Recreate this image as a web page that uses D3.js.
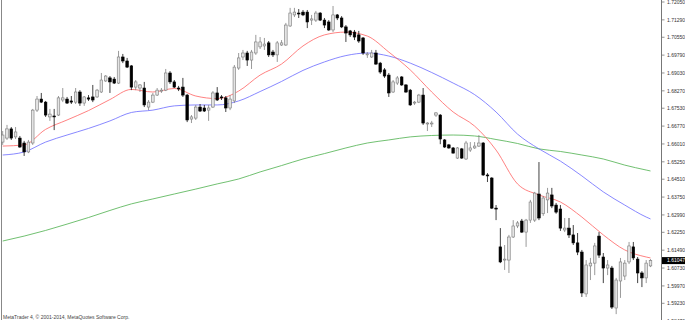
<!DOCTYPE html>
<html>
<head>
<meta charset="utf-8">
<script src="https://cdn.jsdelivr.net/npm/d3@7"></script>
<style>
  body { margin: 0; background: #fff; }
  svg { display: block; font-family: "Liberation Sans", Arial, sans-serif; }
</style>
</head>
<body>
<svg id="chart" width="685" height="320"></svg>
<script>
// daily bars (price units)
const open = [1.6609,1.6626,1.6665,1.6631,1.6626,1.6605,1.6567,1.6605,1.6745,1.6792,1.6779,1.6716,1.6720,1.6724,1.6788,1.6792,1.6784,1.6779,1.6822,1.6775,
  1.6797,1.6801,1.6801,1.6822,1.6869,1.6882,1.6877,1.6860,1.6971,1.6954,1.6933,1.6843,1.6839,1.6839,1.6758,1.6779,1.6809,1.6826,1.6830,1.6903,
  1.6865,1.6839,1.6843,1.6809,1.6707,1.6711,1.6758,1.6754,1.6745,1.6758,1.6818,1.6801,1.6797,1.6754,1.6784,1.6924,1.6971,1.6988,1.6958,1.6988,
  1.7014,1.7018,1.7031,1.6992,1.6980,1.7022,1.7022,1.7103,1.7150,1.7158,1.7162,1.7162,1.7128,1.7128,1.7158,1.7128,1.7120,1.7086,1.7150,1.7137,
  1.7099,1.7082,1.7077,1.7065,1.7052,1.6980,1.6971,1.6988,1.6945,1.6916,1.6894,1.6822,1.6860,1.6886,1.6852,1.6830,1.6775,1.6779,1.6809,1.6686,
  1.6686,1.6724,1.6724,1.6618,1.6597,1.6584,1.6541,1.6580,1.6537,1.6575,1.6584,1.6592,1.6605,1.6469,1.6456,1.6328,1.6163,1.6107,1.6107,1.6205,
  1.6252,1.6273,1.6226,1.6277,1.6277,1.6388,1.6304,1.6363,1.6384,1.6341,1.6324,1.6235,1.6243,1.6214,1.6180,1.6141,1.5963,1.6082,1.6094,1.6209,
  1.6120,1.6073,1.6073,1.5903,1.6018,1.6039,1.6099,1.6163,1.6111,1.6052,1.6031,1.6082];
const high = [1.6656,1.6682,1.6673,1.6673,1.6635,1.6614,1.6618,1.6750,1.6805,1.6818,1.6784,1.6750,1.6750,1.6805,1.6839,1.6801,1.6805,1.6839,1.6830,1.6805,
  1.6809,1.6852,1.6835,1.6903,1.6894,1.6890,1.6886,1.6997,1.6984,1.6967,1.6937,1.6873,1.6856,1.6865,1.6788,1.6818,1.6839,1.6839,1.6920,1.6911,
  1.6873,1.6848,1.6882,1.6814,1.6724,1.6767,1.6771,1.6767,1.6767,1.6826,1.6843,1.6809,1.6805,1.6809,1.6937,1.6988,1.7001,1.6997,1.7001,1.7065,
  1.7056,1.7052,1.7039,1.7001,1.7039,1.7043,1.7116,1.7180,1.7180,1.7175,1.7171,1.7171,1.7150,1.7167,1.7162,1.7137,1.7128,1.7188,1.7154,1.7145,
  1.7107,1.7086,1.7086,1.7082,1.7056,1.6992,1.7001,1.7001,1.6950,1.6924,1.6903,1.6873,1.6890,1.6890,1.6856,1.6835,1.6784,1.6814,1.6839,1.6694,
  1.6699,1.6737,1.6728,1.6622,1.6601,1.6588,1.6588,1.6584,1.6614,1.6609,1.6609,1.6639,1.6609,1.6477,1.6460,1.6341,1.6243,1.6171,1.6214,1.6277,
  1.6273,1.6282,1.6282,1.6363,1.6397,1.6524,1.6380,1.6414,1.6414,1.6350,1.6341,1.6286,1.6286,1.6256,1.6222,1.6150,1.6107,1.6116,1.6180,1.6226,
  1.6137,1.6107,1.6082,1.6031,1.6116,1.6107,1.6184,1.6184,1.6120,1.6060,1.6107,1.6111];
const low = [1.6597,1.6618,1.6618,1.6622,1.6584,1.6550,1.6562,1.6597,1.6737,1.6775,1.6716,1.6699,1.6660,1.6720,1.6779,1.6771,1.6771,1.6771,1.6763,1.6763,
  1.6784,1.6779,1.6797,1.6818,1.6865,1.6818,1.6856,1.6856,1.6945,1.6924,1.6830,1.6830,1.6822,1.6758,1.6745,1.6775,1.6805,1.6818,1.6826,1.6856,
  1.6839,1.6826,1.6801,1.6694,1.6690,1.6703,1.6737,1.6737,1.6699,1.6754,1.6784,1.6788,1.6737,1.6745,1.6775,1.6916,1.6958,1.6933,1.6920,1.6980,
  1.7005,1.7001,1.6971,1.6971,1.6950,1.7018,1.7018,1.7099,1.7141,1.7137,1.7145,1.7094,1.7107,1.7120,1.7124,1.7094,1.7082,1.7077,1.7128,1.7094,
  1.7035,1.7056,1.7043,1.7031,1.6980,1.6967,1.6967,1.6937,1.6899,1.6882,1.6801,1.6818,1.6852,1.6848,1.6818,1.6763,1.6767,1.6775,1.6682,1.6656,
  1.6673,1.6716,1.6600,1.6584,1.6580,1.6561,1.6537,1.6537,1.6533,1.6567,1.6580,1.6588,1.6465,1.6439,1.6324,1.6277,1.6094,1.6065,1.6052,1.6201,
  1.6243,1.6222,1.6163,1.6265,1.6269,1.6277,1.6295,1.6307,1.6328,1.6304,1.6231,1.6226,1.6201,1.6171,1.6128,1.5950,1.5950,1.6022,1.6043,1.6116,
  1.6009,1.6043,1.5899,1.5877,1.5946,1.6022,1.6090,1.6107,1.6009,1.5992,1.6009,1.6077];
const close = [1.6639,1.6665,1.6626,1.6652,1.6588,1.6567,1.6609,1.6745,1.6792,1.6779,1.6724,1.6728,1.6716,1.6797,1.6797,1.6775,1.6779,1.6822,1.6775,1.6801,
  1.6792,1.6788,1.6830,1.6873,1.6890,1.6865,1.6860,1.6971,1.6954,1.6928,1.6843,1.6865,1.6852,1.6767,1.6779,1.6809,1.6830,1.6830,1.6903,1.6865,
  1.6843,1.6835,1.6809,1.6703,1.6716,1.6758,1.6741,1.6741,1.6754,1.6818,1.6788,1.6797,1.6754,1.6792,1.6928,1.6967,1.6988,1.6958,1.6992,1.7035,
  1.7035,1.7026,1.6980,1.6980,1.7031,1.7031,1.7107,1.7158,1.7162,1.7154,1.7150,1.7120,1.7133,1.7158,1.7128,1.7107,1.7086,1.7150,1.7137,1.7099,
  1.7073,1.7065,1.7056,1.7039,1.6988,1.6984,1.6988,1.6941,1.6907,1.6890,1.6818,1.6865,1.6882,1.6852,1.6822,1.6767,1.6779,1.6809,1.6690,1.6690,
  1.6690,1.6733,1.6622,1.6588,1.6584,1.6562,1.6584,1.6541,1.6605,1.6584,1.6592,1.6605,1.6469,1.6465,1.6328,1.6324,1.6099,1.6111,1.6205,1.6252,
  1.6265,1.6226,1.6277,1.6354,1.6392,1.6286,1.6371,1.6392,1.6337,1.6311,1.6243,1.6243,1.6214,1.6180,1.6141,1.5967,1.6086,1.6094,1.6167,1.6128,
  1.6073,1.6086,1.5907,1.6022,1.6099,1.6094,1.6167,1.6116,1.6052,1.6031,1.6094,1.6105];

// moving averages, sampled every 5th bar
const maBar = [0,5,10,15,20,25,30,35,40,45,50,55,60,65,70,75,80,85,90,95,100,105,110,115,120,125,130,135,140,145,150,151];
const maRed = [1.6592,1.6597,1.6663,1.6703,1.6743,1.6790,1.6833,1.6822,1.6837,1.6805,1.6794,1.6826,1.6894,1.6941,1.7018,1.7065,
  1.7077,1.7060,1.6992,1.6916,1.6822,1.6737,1.6677,1.6575,1.6431,1.6384,1.6354,1.6290,1.6214,1.6150,1.6120,1.6116];
const maBlue = [1.6554,1.6567,1.6609,1.6639,1.6667,1.6699,1.6735,1.6745,1.6763,1.6767,1.6767,1.6784,1.6824,1.6867,1.6914,1.6950,
  1.6977,1.6988,1.6975,1.6945,1.6905,1.6860,1.6811,1.6737,1.6643,1.6580,1.6528,1.6465,1.6397,1.6341,1.6290,1.6282];
const maGreen = [1.6188,1.6209,1.6233,1.6260,1.6288,1.6318,1.6346,1.6367,1.6388,1.6409,1.6431,1.6452,1.6482,1.6509,1.6537,1.6560,
  1.6584,1.6605,1.6618,1.6631,1.6637,1.6639,1.6635,1.6620,1.6603,1.6580,1.6569,1.6554,1.6537,1.6511,1.6490,1.6486];

const priceLabels = ['1.72050','1.71290','1.70550','1.69790','1.69030','1.68270','1.67530','1.66770','1.66010','1.65250',
  '1.64510','1.63750','1.62990','1.62250','1.61490','1.60730','1.59970','1.59230','1.58470'];
const lastPrice = '1.61047';

const svg = d3.select('#chart');
const W = 685, H = 320, axisX = 661.5;

const x = d3.scaleLinear().domain([0, open.length - 1]).range([2.7, 650.5]);
const y = d3.scaleLinear().domain([1.5923, 1.7205]).range([303.3, 2]);

svg.append('rect').attr('width', W).attr('height', H).attr('fill', '#fff');

// left border
svg.append('line').attr('x1', 1.5).attr('x2', 1.5).attr('y1', 0).attr('y2', H)
  .attr('stroke', '#888').attr('stroke-width', 1);

// moving averages
const maLine = vals => d3.line()
  .x((d, i) => x(maBar[i]))
  .y(d => y(d))
  .curve(d3.curveMonotoneX)(vals);

svg.append('path').attr('d', maLine(maGreen)).attr('fill', 'none').attr('stroke', '#4cb04c').attr('stroke-width', 0.8);
svg.append('path').attr('d', maLine(maBlue)).attr('fill', 'none').attr('stroke', '#6a6aff').attr('stroke-width', 0.8);
svg.append('path').attr('d', maLine(maRed)).attr('fill', 'none').attr('stroke', '#ff6262').attr('stroke-width', 0.8);

// candles
const bars = d3.range(open.length).map(i => ({i, o: open[i], h: high[i], l: low[i], c: close[i]}));
const bodyW = 2.6;

const g = svg.append('g');
g.selectAll('.wick').data(bars).enter().append('line')
  .attr('class', 'wick')
  .attr('x1', d => x(d.i)).attr('x2', d => x(d.i))
  .attr('y1', d => y(d.h)).attr('y2', d => y(d.l))
  .attr('stroke', d => d.c >= d.o ? '#808080' : '#111')
  .attr('stroke-width', 0.8);

g.selectAll('.body').data(bars).enter().append('rect')
  .attr('class', 'body')
  .attr('x', d => x(d.i) - bodyW / 2)
  .attr('width', bodyW)
  .attr('y', d => y(Math.max(d.o, d.c)))
  .attr('height', d => Math.max(0.8, Math.abs(y(d.o) - y(d.c))))
  .attr('fill', d => d.c >= d.o ? '#e4e4e4' : '#000')
  .attr('stroke', d => d.c >= d.o ? '#7a7a7a' : '#000')
  .attr('stroke-width', 0.6);

// right price axis
svg.append('line').attr('x1', axisX).attr('x2', axisX).attr('y1', 0).attr('y2', H)
  .attr('stroke', '#777').attr('stroke-width', 1);

const ticks = svg.append('g');
priceLabels.forEach(t => {
  const v = parseFloat(t);
  ticks.append('line').attr('x1', axisX).attr('x2', axisX + 3)
    .attr('y1', y(v)).attr('y2', y(v)).attr('stroke', '#777').attr('stroke-width', 0.8);
  ticks.append('text').attr('x', 667).attr('y', y(v)).attr('dy', '0.35em')
    .attr('font-size', 5).attr('fill', '#333').text(t);
});

// current price tag
const lp = parseFloat(lastPrice);
svg.append('rect').attr('x', axisX + 0.5).attr('y', y(lp) - 3.5).attr('width', 23).attr('height', 7).attr('fill', '#000');
svg.append('text').attr('x', 667).attr('y', y(lp)).attr('dy', '0.35em')
  .attr('font-size', 5).attr('fill', '#fff').text(lastPrice);

// copyright line
svg.append('text').attr('x', 3).attr('y', 318.5).attr('font-size', 5).attr('fill', '#444')
  .text('MetaTrader 4, © 2001-2014, MetaQuotes Software Corp.');
</script>
</body>
</html>
